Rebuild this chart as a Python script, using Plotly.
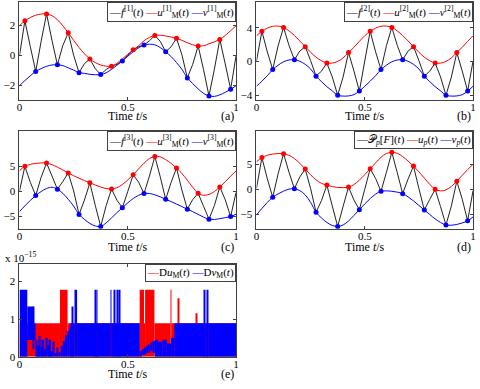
import plotly.graph_objects as go

# sample times (s)
T = [0.000, 0.025, 0.050, 0.075, 0.100, 0.125, 0.150, 0.175, 0.200, 0.225,
     0.250, 0.275, 0.300, 0.325, 0.350, 0.375, 0.400, 0.425, 0.450, 0.475,
     0.500, 0.525, 0.550, 0.575, 0.600, 0.625, 0.650, 0.675, 0.700, 0.725,
     0.750, 0.775, 0.800, 0.825, 0.850, 0.875, 0.900, 0.925, 0.950, 0.975, 1.000]

# (a)
F1 = [-0.04, 2.28, 0.56, -1.09, 0.92, 2.74, 0.98, -0.65, 0.63, 1.48,
      -0.01, -1.17, -0.57, -0.26, -0.91, -1.30, -0.96, -0.74, -0.62, -0.39,
      -0.02, 0.35, 0.55, 0.67, 0.95, 1.30, 0.91, 0.22, 0.55, 1.11,
      0.02, -1.52, -0.61, 0.61, -0.97, -2.72, -0.94, 1.04, -0.59, -2.28, -0.05]
U1 = [1.95, 2.28, 2.50, 2.65, 2.73, 2.74, 2.62, 2.35, 1.95, 1.48,
      0.98, 0.50, 0.08, -0.26, -0.50, -0.66, -0.74, -0.74, -0.55, -0.25,
      0.05, 0.35, 0.62, 0.95, 1.18, 1.30, 1.32, 1.27, 1.20, 1.11,
      0.98, 0.82, 0.68, 0.61, 0.62, 0.75, 0.88, 1.04, 1.30, 1.62, 1.95]
V1 = [-2.04, -1.70, -1.38, -1.09, -0.90, -0.75, -0.66, -0.65, -0.70, -0.85,
      -1.00, -1.17, -1.22, -1.28, -1.31, -1.30, -1.18, -0.95, -0.68, -0.39,
      -0.08, 0.22, 0.48, 0.67, 0.72, 0.68, 0.50, 0.22, -0.10, -0.50,
      -0.95, -1.52, -1.90, -2.25, -2.55, -2.72, -2.75, -2.65, -2.48, -2.28, -2.04]

# (b)
F2 = [0.05, 3.57, 1.13, -0.97, 1.87, 4.04, 1.90, 0.19, 1.23, 1.75,
      0.09, -1.75, -1.16, -0.19, -1.85, -4.02, -1.85, 1.05, -1.14, -3.53,
      0.05, 3.57, 1.13, -0.97, 1.87, 4.04, 1.90, 0.19, 1.23, 1.75,
      0.09, -1.75, -1.16, -0.19, -1.85, -4.02, -1.85, 1.05, -1.14, -3.53, 0.05]
U2 = [3.05, 3.57, 3.95, 4.17, 4.19, 4.04, 3.62, 3.08, 2.43, 1.75,
      1.08, 0.50, 0.08, -0.19, -0.20, 0.00, 0.42, 1.05, 1.68, 2.38,
      3.05, 3.57, 3.95, 4.17, 4.19, 4.04, 3.62, 3.08, 2.43, 1.75,
      1.08, 0.50, 0.08, -0.19, -0.20, 0.00, 0.42, 1.05, 1.68, 2.38, 3.05]
V2 = [-2.95, -2.35, -1.70, -0.97, -0.45, -0.05, 0.17, 0.19, 0.02, -0.35,
      -0.90, -1.75, -2.40, -3.00, -3.50, -4.02, -4.12, -4.10, -3.95, -3.53,
      -2.95, -2.35, -1.70, -0.97, -0.45, -0.05, 0.17, 0.19, 0.02, -0.35,
      -0.90, -1.75, -2.40, -3.00, -3.50, -4.02, -4.12, -4.10, -3.95, -3.53, -2.95]

# (c)
F3 = [0.03, 4.97, 1.78, -0.85, 2.80, 5.62, 3.05, 0.42, 1.93, 3.66,
      0.08, -4.60, -1.74, 1.70, -2.83, -7.00, -2.88, 0.46, -1.78, -3.27,
      -0.03, 3.27, 1.83, -0.46, 3.03, 6.93, 2.88, -1.60, 1.75, 4.64,
      0.25, -3.57, -1.63, -0.39, -2.98, -5.55, -2.83, 0.85, -1.68, -5.03, -0.25]
U3 = [4.10, 4.97, 5.35, 5.55, 5.65, 5.62, 5.30, 4.80, 4.25, 3.66,
      3.10, 2.60, 2.12, 1.70, 1.25, 0.85, 0.55, 0.46, 0.70, 1.35,
      2.25, 3.27, 4.45, 5.60, 6.50, 6.93, 6.85, 6.30, 5.55, 4.64,
      3.55, 2.20, 0.80, -0.39, -0.80, -0.62, -0.05, 0.85, 1.90, 3.00, 4.05]
V3 = [-4.05, -2.90, -1.80, -0.85, -0.05, 0.55, 0.80, 0.42, -0.40, -1.60,
      -2.95, -4.60, -5.60, -6.40, -6.90, -7.00, -6.30, -5.30, -4.25, -3.27,
      -2.30, -1.45, -0.80, -0.46, -0.45, -0.70, -1.10, -1.60, -2.05, -2.55,
      -3.05, -3.57, -4.05, -4.60, -5.15, -5.55, -5.60, -5.45, -5.25, -5.03, -4.55]

# (d)
F4 = [0.20, 6.34, 2.10, -1.57, 3.13, 7.12, 3.43, 0.13, 2.48, 4.05,
      0.15, -4.55, -2.25, 0.85, -3.33, -7.39, -3.38, 0.46, -2.13, -4.05,
      0.03, 4.12, 2.18, -0.39, 3.43, 7.39, 3.33, -0.85, 2.08, 4.64,
      0.15, -4.12, -2.00, 0.00, -3.45, -7.12, -3.28, 1.63, -1.95, -6.27, -0.25]
U4 = [5.50, 6.34, 6.80, 7.05, 7.15, 7.12, 6.80, 6.15, 5.20, 4.05,
      2.90, 1.90, 1.20, 0.85, 0.55, 0.38, 0.35, 0.46, 0.95, 1.85,
      2.95, 4.12, 5.30, 6.40, 7.15, 7.39, 7.20, 6.55, 5.65, 4.64,
      3.50, 2.25, 1.00, 0.00, -0.30, -0.10, 0.60, 1.63, 2.80, 3.95, 5.00]
V4 = [-5.10, -3.80, -2.60, -1.57, -0.90, -0.35, 0.05, 0.13, -0.25, -1.10,
      -2.60, -4.55, -5.70, -6.60, -7.20, -7.39, -7.10, -6.30, -5.20, -4.05,
      -2.90, -1.85, -0.95, -0.39, -0.30, -0.38, -0.55, -0.85, -1.50, -2.30,
      -3.20, -4.12, -5.00, -5.90, -6.60, -7.12, -7.15, -7.00, -6.70, -6.27, -5.50]

# (e) rounding error, units of 1e-15: segments [edge_i, edge_i+1] spanning lo..hi
DU_EDGES = [0.000, 0.187, 0.222, 0.555, 0.575, 0.580, 0.623, 0.698, 0.701,
            0.731, 0.736, 0.816, 0.821, 1.000]
DU_LO = [0, 0, 0, 0, 0, 0, 0, 0, 0, 0, 0, 0, 0]
DU_HI = [0.888, 1.776, 0.888, 1.776, 0.888, 1.776, 0.888, 1.776, 0.888,
         1.55, 0.888, 1.15, 0.888]

DV_EDGES = [0.000, 0.036, 0.064, 0.068, 0.074, 0.082, 0.090, 0.098, 0.106, 0.114,
            0.122, 0.130, 0.138, 0.146, 0.154, 0.162, 0.172, 0.180, 0.190, 0.200,
            0.210, 0.220, 0.230, 0.240, 0.244, 0.248, 0.254, 0.266, 0.350, 0.353,
            0.356, 0.359, 0.421, 0.424, 0.437, 0.440, 0.452, 0.455, 0.461, 0.464,
            0.555, 0.565, 0.575, 0.585, 0.595, 0.605, 0.615, 0.625, 0.640, 0.660,
            0.680, 0.700, 0.715, 0.854, 0.858, 0.868, 0.872, 1.000]
DV_LO = [0, 0.444, 0.2, 0.444, 0, 0, 0, 0, 0, 0,
         0, 0, 0, 0, 0, 0, 0, 0, 0, 0,
         0, 0, 0, 0, 0, 0, 0, 0, 0, 0,
         0, 0, 0, 0, 0, 0, 0, 0, 0, 0,
         0, 0.05, 0.05, 0.10, 0.10, 0.15, 0.10, 0, 0, 0,
         0, 0, 0, 0, 0, 0, 0]
DV_HI = [1.776, 1.332, 1.332, 0.888, 0.45, 0.30, 0.55, 0.25, 0.45, 0.20,
         0.50, 0.30, 0.45, 0.15, 0.40, 0.10, 0.25, 0.12, 0.28, 0.42,
         0.56, 0.68, 0.80, 0.888, 1.332, 0.888, 1.776, 0.888, 1.776, 0.888,
         1.776, 0.888, 1.776, 0.888, 1.776, 0.888, 1.776, 0.888, 1.776, 0.888,
         0.15, 0.20, 0.25, 0.30, 0.33, 0.38, 0.42, 0.45, 0.40, 0.45,
         0.35, 0.50, 0.888, 1.776, 0.888, 1.776, 0.888]

W, H = 480, 389
SERIF = "Liberation Serif"
AX = '#404040'


def px_x(x):
    return x / W


def px_y(y):
    return 1 - y / H


# pixel boxes of the five axes: (left, right, top, bottom)
BOXES = {
    'a': (16.7, 236.0, 2.5, 101.7),
    'b': (256.7, 476.0, 2.5, 101.7),
    'c': (16.7, 236.0, 133.3, 232.3),
    'd': (256.7, 476.0, 133.3, 232.3),
    'e': (16.7, 236.0, 268.5, 362.3),
}
# distance (px) from the axis bottom to the "Time t/s" line
TITLE_GAP = {'a': 16, 'b': 16, 'c': 19, 'd': 19, 'e': 18}
YRANGE = {'a': [-3.0, 3.5], 'b': [-4.6, 7.0], 'c': [-7.45, 11.95],
          'd': [-7.85, 11.6], 'e': [0, 2.45]}
YTICKS = {'a': [-2, 0, 2], 'b': [-4, 0, 4], 'c': [-5, 0, 5],
          'd': [-5, 0, 5], 'e': [0, 1, 2]}

fig = go.Figure()
layout = {}
for i, key in enumerate(['a', 'b', 'c', 'd', 'e']):
    l, r, t, b = BOXES[key]
    n = '' if i == 0 else str(i + 1)
    common = dict(showline=True, linecolor=AX, linewidth=1, mirror='ticks',
                  ticks='inside', ticklen=3, tickcolor=AX, showgrid=False,
                  zeroline=False, tickfont=dict(family=SERIF, size=11, color='black'))
    layout['xaxis' + n] = dict(domain=[px_x(l), px_x(r)], range=[0, 1], anchor='y' + n,
                               tickvals=[0, 0.5, 1], ticktext=['0', '0.5', '1'],
                               ticklabelstandoff=-3, **common)
    layout['yaxis' + n] = dict(domain=[px_y(b), px_y(t)], range=YRANGE[key], anchor='x' + n,
                               tickvals=YTICKS[key], ticklabelstandoff=1, **common)

panels = [('', F1, U1, V1), ('2', F2, U2, V2), ('3', F3, U3, V3), ('4', F4, U4, V4)]
for n, F, U, V in panels:
    xa, ya = 'x' + n, 'y' + n
    fig.add_trace(go.Scatter(x=T, y=F, mode='lines', line=dict(color='#222222', width=1),
                             xaxis=xa, yaxis=ya, showlegend=False))
    fig.add_trace(go.Scatter(x=T, y=U, mode='lines', line=dict(color='red', width=1, shape='spline'),
                             xaxis=xa, yaxis=ya, showlegend=False))
    fig.add_trace(go.Scatter(x=T, y=V, mode='lines', line=dict(color='blue', width=1, shape='spline'),
                             xaxis=xa, yaxis=ya, showlegend=False))
    # extrema markers: maxima at 0.025 + 0.1k, minima at 0.075 + 0.1k
    fig.add_trace(go.Scatter(x=T[1::4], y=F[1::4], mode='markers',
                             marker=dict(color='red', size=5), xaxis=xa, yaxis=ya, showlegend=False))
    fig.add_trace(go.Scatter(x=T[3::4], y=F[3::4], mode='markers',
                             marker=dict(color='blue', size=5), xaxis=xa, yaxis=ya, showlegend=False))


def band_bars(edges, lo, hi, color):
    mids = [(a + b) / 2 for a, b in zip(edges[:-1], edges[1:])]
    widths = [b - a for a, b in zip(edges[:-1], edges[1:])]
    return go.Bar(x=mids, y=[h - q for q, h in zip(lo, hi)], base=lo, width=widths,
                  marker=dict(color=color, line=dict(width=0)),
                  xaxis='x5', yaxis='y5', showlegend=False)


fig.add_trace(band_bars(DU_EDGES, DU_LO, DU_HI, 'red'))
fig.add_trace(band_bars(DV_EDGES, DV_LO, DV_HI, 'blue'))

K = '<span style="color:#222">—</span>'
R = '<span style="color:red">—</span>'
B = '<span style="color:blue">—</span>'
LEGENDS = {
    'a': K + '<i>f</i><sup>[1]</sup>(<i>t</i>) ' + R + '<i>u</i><sup>[1]</sup><sub>M</sub>(<i>t</i>) '
         + B + '<i>v</i><sup>[1]</sup><sub>M</sub>(<i>t</i>)',
    'b': K + '<i>f</i><sup>[2]</sup>(<i>t</i>) ' + R + '<i>u</i><sup>[2]</sup><sub>M</sub>(<i>t</i>) '
         + B + '<i>v</i><sup>[2]</sup><sub>M</sub>(<i>t</i>)',
    'c': K + '<i>f</i><sup>[3]</sup>(<i>t</i>) ' + R + '<i>u</i><sup>[3]</sup><sub>M</sub>(<i>t</i>) '
         + B + '<i>v</i><sup>[3]</sup><sub>M</sub>(<i>t</i>)',
    'd': K + '𝒫<sub><i>p</i></sub>[<i>F</i>](<i>t</i>) ' + R + '<i>u</i><sub><i>p</i></sub>(<i>t</i>) '
         + B + '<i>v</i><sub><i>p</i></sub>(<i>t</i>)',
    'e': R + 'D<i>u</i><sub>M</sub>(<i>t</i>) ' + B + 'D<i>v</i><sub>M</sub>(<i>t</i>)',
}

annotations = []
for key in ['a', 'b', 'c', 'd', 'e']:
    l, r, t, b = BOXES[key]
    ty = px_y(b + TITLE_GAP[key])
    annotations.append(dict(xref='paper', yref='paper', x=px_x(r), y=px_y(t),
                            xanchor='right', yanchor='top', text=LEGENDS[key], showarrow=False,
                            font=dict(family=SERIF, size=11, color='black'),
                            bgcolor='white', bordercolor=AX, borderwidth=1, borderpad=1))
    annotations.append(dict(xref='paper', yref='paper', x=px_x((l + r) / 2), y=ty,
                            xanchor='center', yanchor='middle', text='Time <i>t</i>/s',
                            showarrow=False, font=dict(family=SERIF, size=12, color='black')))
    annotations.append(dict(xref='paper', yref='paper', x=px_x(r), y=ty,
                            xanchor='right', yanchor='middle', text='(%s)' % key,
                            showarrow=False, font=dict(family=SERIF, size=12, color='black')))

annotations.append(dict(xref='paper', yref='paper', x=0, y=px_y(261), xanchor='left',
                        yanchor='middle', text='x 10<sup>−15</sup>', showarrow=False,
                        font=dict(family=SERIF, size=11, color='black')))

fig.update_layout(
    width=W, height=H,
    margin=dict(l=0, r=0, t=0, b=0),
    paper_bgcolor='white', plot_bgcolor='white',
    barmode='overlay',
    annotations=annotations,
    **layout
)

fig.write_html("out.html", config={'displayModeBar': False},
               post_script="document.body.style.margin='0px';")
